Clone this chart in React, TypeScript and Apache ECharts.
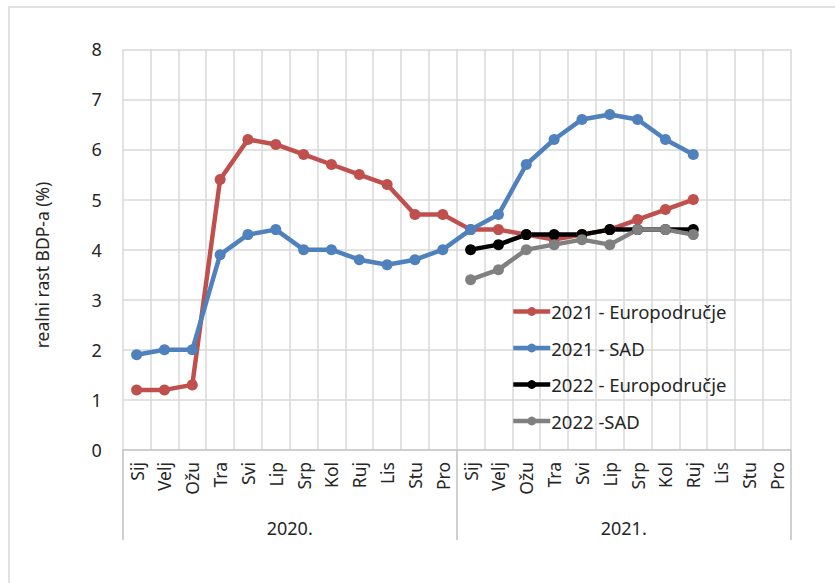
import React, { useEffect, useRef } from "react";
import * as echarts from "echarts";

const months = ["Sij", "Velj", "Ožu", "Tra", "Svi", "Lip", "Srp", "Kol", "Ruj", "Lis", "Stu", "Pro"];
const categories = [...months, ...months];
const years = ["2020.", "2021."];
const yTicks = { min: 0, max: 8, interval: 1 };

const ea2021 = [1.2, 1.2, 1.3, 5.4, 6.2, 6.1, 5.9, 5.7, 5.5, 5.3, 4.7, 4.7, 4.4, 4.4, 4.3, 4.2, 4.3, 4.4, 4.6, 4.8, 5.0, null, null, null];
const us2021 = [1.9, 2.0, 2.0, 3.9, 4.3, 4.4, 4.0, 4.0, 3.8, 3.7, 3.8, 4.0, 4.4, 4.7, 5.7, 6.2, 6.6, 6.7, 6.6, 6.2, 5.9, null, null, null];
const ea2022 = [null, null, null, null, null, null, null, null, null, null, null, null, 4.0, 4.1, 4.3, 4.3, 4.3, 4.4, 4.4, 4.4, 4.4, null, null, null];
const us2022 = [null, null, null, null, null, null, null, null, null, null, null, null, 3.4, 3.6, 4.0, 4.1, 4.2, 4.1, 4.4, 4.4, 4.3, null, null, null];

const seriesDefs = [
  { name: "2021 - Europodručje", data: ea2021, color: "#C0504D" },
  { name: "2021 - SAD", data: us2021, color: "#4F81BD" },
  { name: "2022 - Europodručje", data: ea2022, color: "#000000" },
  { name: "2022 -SAD", data: us2022, color: "#808080" },
];

const FONT = "'Noto Sans', sans-serif";
const TXT = "#262626";

export default function App() {
  const ref = useRef<HTMLDivElement>(null);
  useEffect(() => {
    if (!ref.current) return;
    const chart = echarts.init(ref.current, null, { renderer: "svg" });
    chart.setOption({
      animation: false,
      backgroundColor: "#ffffff",
      textStyle: { fontFamily: FONT },
      grid: { left: 122.7, right: 44.3, top: 49.3, bottom: 133, containLabel: false },
      graphic: [
        {
          type: "rect",
          shape: { x: 9, y: 7, width: 900, height: 700 },
          style: { fill: "none", stroke: "#d9d9d9", lineWidth: 1.5 },
          silent: true,
        },
        {
          type: "text",
          x: 42,
          y: 265,
          rotation: Math.PI / 2,
          style: {
            text: "realni rast BDP-a (%)",
            font: "17.5px 'Noto Sans', sans-serif",
            fill: TXT,
            textAlign: "center",
            textVerticalAlign: "middle",
          },
        },
      ],
      legend: {
        orient: "vertical",
        left: 506,
        top: 297,
        itemWidth: 37,
        itemHeight: 11,
        itemGap: 17.5,
        lineStyle: { width: 4.5 },
        textStyle: { fontSize: 18.5, color: TXT, fontFamily: FONT, padding: [0, 0, 0, -4] },
        data: seriesDefs.map((s) => s.name),
      },
      xAxis: [
        {
          type: "category",
          data: categories,
          boundaryGap: true,
          axisLine: { show: true, lineStyle: { color: "#c8c8c8", width: 1.5 } },
          axisTick: { show: false },
          splitLine: { show: true, interval: 0, lineStyle: { color: "#d9d9d9", width: 1.5 } },
          axisLabel: {
            interval: 0,
            rotate: 90,
            margin: 12,
            fontSize: 17.5,
            color: TXT,
            fontFamily: FONT,
          },
        },
        {
          type: "category",
          data: years,
          position: "bottom",
          offset: 90,
          boundaryGap: true,
          axisLine: { show: false },
          axisTick: { show: true, inside: true, length: 90, lineStyle: { color: "#c0c0c0", width: 1.5 } },
          splitLine: { show: false },
          axisLabel: { margin: -21, fontSize: 18, color: TXT, fontFamily: FONT },
        },
      ],
      yAxis: {
        type: "value",
        min: yTicks.min,
        max: yTicks.max,
        interval: yTicks.interval,
        axisLine: { show: false },
        axisTick: { show: false },
        splitLine: { show: true, lineStyle: { color: "#d9d9d9", width: 1.5 } },
        axisLabel: { margin: 21, fontSize: 18, color: TXT, fontFamily: FONT },
      },
      series: seriesDefs.map((s) => ({
        type: "line",
        name: s.name,
        data: s.data,
        xAxisIndex: 0,
        symbol: "circle",
        symbolSize: 11,
        showSymbol: true,
        connectNulls: false,
        lineStyle: { color: s.color, width: 4.5 },
        itemStyle: { color: s.color },
      })),
    });
    return () => chart.dispose();
  }, []);
  return (
    <div
      ref={ref}
      style={{ position: "fixed", left: 0, top: 0, width: 835, height: 583 }}
    />
  );
}
